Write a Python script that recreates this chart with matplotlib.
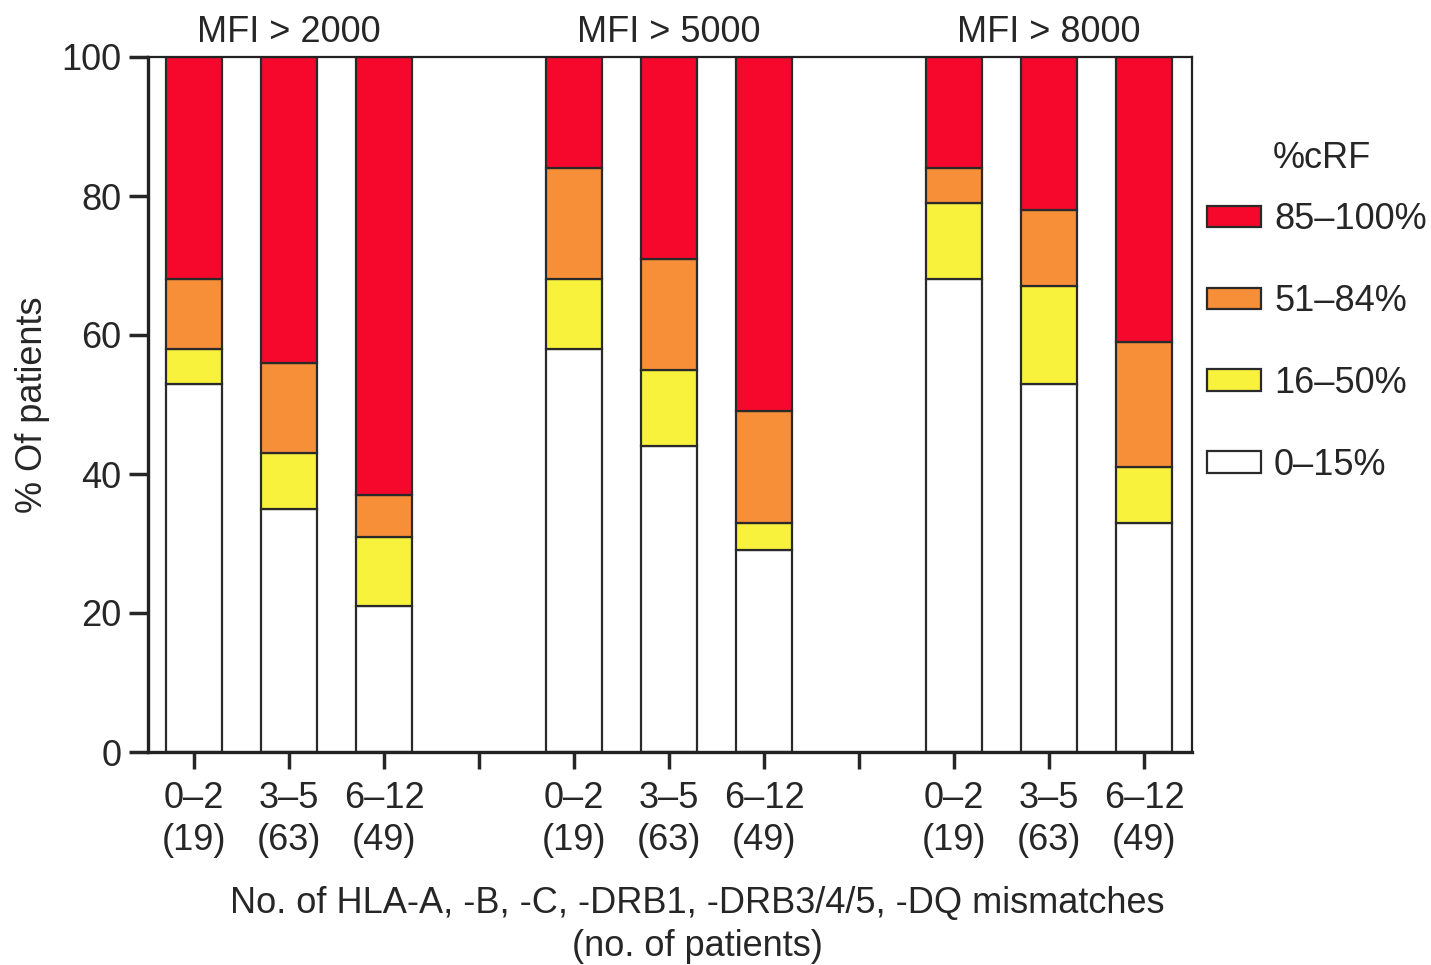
import matplotlib
matplotlib.use("Agg")
import matplotlib.pyplot as plt
from matplotlib.patches import Patch
import numpy as np

plt.rcParams['font.family'] = ['Liberation Sans', 'DejaVu Sans']

groups = ["MFI > 2000", "MFI > 5000", "MFI > 8000"]
mismatch_labels = ["0–2\n(19)", "3–5\n(63)", "6–12\n(49)"]
categories = ["0–15%", "16–50%", "51–84%", "85–100%"]
colors = ["#FFFFFF", "#F8F23C", "#F78F38", "#F5082C"]

# cumulative boundaries (white top, yellow top, orange top)
white = [53, 35, 21, 58, 44, 29, 68, 53, 33]
yellow_top = [58, 43, 31, 68, 55, 33, 79, 67, 41]
orange_top = [68, 56, 37, 84, 71, 49, 84, 78, 59]
total = [100] * 9

white = np.array(white, float)
yellow = np.array(yellow_top, float) - white
orange = np.array(orange_top, float) - np.array(yellow_top, float)
red = np.array(total, float) - np.array(orange_top, float)

positions = [0, 1, 2, 4, 5, 6, 8, 9, 10]
separators = [3, 7]

FS = 26
TC = "#262626"

fig = plt.figure(figsize=(14.31, 9.65), dpi=100)
ax = fig.add_axes([148/1431, 1-752/965, (1192-148)/1431, (752-57)/965])

w = 0.59
ec = "#2a2a2a"
lw = 1.6
segs = [white, yellow, orange, red]
bottom = np.zeros(9)
for vals, col in zip(segs, colors):
    ax.bar(positions, vals, width=w, bottom=bottom, color=col, edgecolor=ec, linewidth=lw, zorder=2)
    bottom = bottom + vals

ax.set_xlim(-0.485, 10.505)
ax.set_ylim(0, 100)
ax.set_yticks([0, 20, 40, 60, 80, 100])
ticks = sorted(positions + separators)
ax.set_xticks(ticks)
lab = []
for t in ticks:
    if t in separators:
        lab.append("")
    else:
        lab.append(mismatch_labels[positions.index(t) % 3])
ax.set_xticklabels(lab, linespacing=1.27)

ax.tick_params(axis='both', labelsize=FS, colors=TC, width=2.5, length=12)
ax.tick_params(axis='y', length=14, pad=5)
ax.tick_params(axis='x', pad=9)
for s in ['left', 'bottom']:
    ax.spines[s].set_linewidth(2.4)
for s in ['top', 'right']:
    ax.spines[s].set_linewidth(1.6)
for s in ax.spines.values():
    s.set_color("#222222")

ax.set_ylabel("% Of patients", fontsize=FS, color=TC, labelpad=8)

for i, g in enumerate(groups):
    ax.text(positions[i*3+1], 103.5, g, ha='center', va='center', fontsize=FS, color=TC)

fig.text(697/1431, 1-925/965, "No. of HLA-A, -B, -C, -DRB1, -DRB3/4/5, -DQ mismatches\n(no. of patients)",
         ha='center', va='center', fontsize=FS, color=TC, linespacing=1.27)

handles = [Patch(facecolor=c, edgecolor=ec, linewidth=1.6, label=l)
           for c, l in zip(colors[::-1], categories[::-1])]
leg = fig.legend(handles=handles, loc='upper left',
                 bbox_to_anchor=(1200/1431, 1-195/965), frameon=False,
                 fontsize=FS, handlelength=1.5, handleheight=0.55,
                 labelspacing=1.3, handletextpad=0.35, borderpad=0.1, borderaxespad=0.1)
for t in leg.get_texts():
    t.set_color(TC)
fig.text(1322/1431, 1-158/965, "%cRF", ha='center', va='center', fontsize=FS, color=TC)

fig.savefig("out.png", dpi=100)
